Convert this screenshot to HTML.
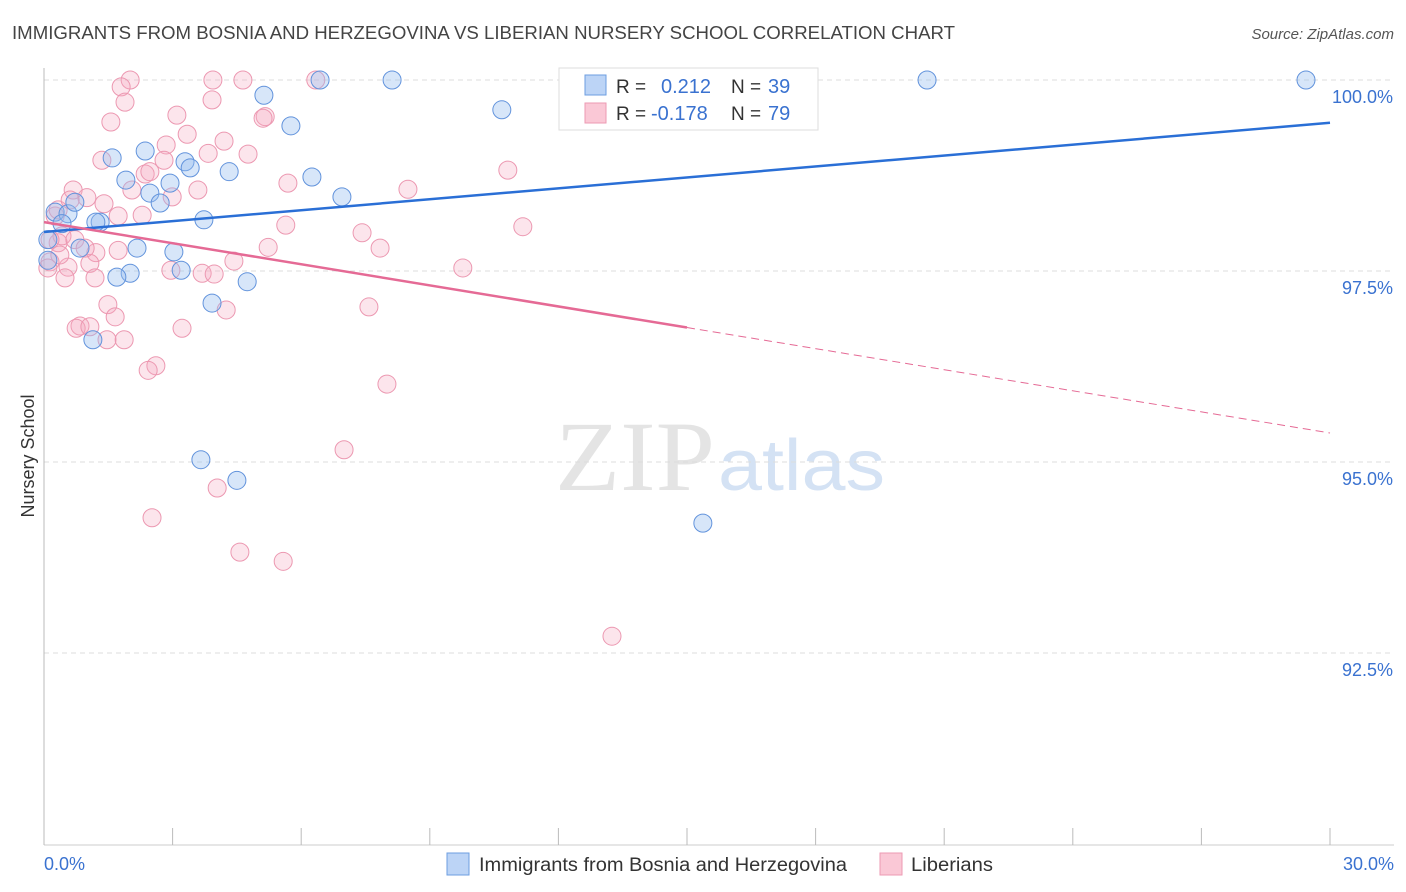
<!DOCTYPE html>
<html><head><meta charset="utf-8"><style>
body{margin:0;background:#fff;font-family:"Liberation Sans",sans-serif}
svg{display:block}
</style></head><body>
<svg id="chart" width="1406" height="892">
<text x="12" y="39" font-size="18" fill="#444" textLength="943" lengthAdjust="spacingAndGlyphs">IMMIGRANTS FROM BOSNIA AND HERZEGOVINA VS LIBERIAN NURSERY SCHOOL CORRELATION CHART</text>
<text x="1394" y="39" font-size="15" fill="#555" font-style="italic" text-anchor="end">Source: ZipAtlas.com</text>
<text x="555" y="490" font-size="100" fill="#e4e4e4" textLength="160" lengthAdjust="spacingAndGlyphs" font-family="Liberation Serif,serif">ZIP</text>
<text x="718" y="490" font-size="72" fill="#d4e2f4" textLength="167" lengthAdjust="spacingAndGlyphs">atlas</text>
<text transform="translate(34,456) rotate(-90)" font-size="18" fill="#333" text-anchor="middle">Nursery School</text>
<g id="grid"></g><g id="marks"></g>
<g>
<rect x="559" y="68" width="259" height="62" fill="#fff" stroke="#ddd"/>
<rect x="585" y="75" width="21" height="20" fill="#bcd4f6" stroke="#6d9ee0"/>
<rect x="585" y="103" width="21" height="20" fill="#fac8d6" stroke="#ec9ab3"/>
<text x="616" y="93" font-size="19" fill="#333">R =</text>
<text x="661" y="93" font-size="20" fill="#3a72d0">0.212</text>
<text x="731" y="93" font-size="19" fill="#333">N =</text>
<text x="768" y="93" font-size="20" fill="#3a72d0">39</text>
<text x="616" y="120" font-size="19" fill="#333">R =</text>
<text x="651" y="120" font-size="20" fill="#3a72d0">-0.178</text>
<text x="731" y="120" font-size="19" fill="#333">N =</text>
<text x="768" y="120" font-size="20" fill="#3a72d0">79</text>
</g>
<g>
<rect x="447" y="853" width="22" height="22" fill="#bcd4f6" stroke="#6d9ee0"/>
<text x="479" y="871" font-size="19" fill="#333" textLength="368" lengthAdjust="spacingAndGlyphs">Immigrants from Bosnia and Herzegovina</text>
<rect x="880" y="853" width="22" height="22" fill="#fac8d6" stroke="#ec9ab3"/>
<text x="911" y="871" font-size="19" fill="#333" textLength="82" lengthAdjust="spacingAndGlyphs">Liberians</text>
</g>
</svg>
<script>
const yTicks=[100,97.5,95,92.5];
const yTickLabels=["100.0%","97.5%","95.0%","92.5%"];
const xTickLabels=["0.0%","30.0%"];
const blueX=[0.26,0.56,0.72,0.42,0.09,1.59,2.36,1.91,1.31,0.84,2.17,2.47,2.71,2.94,3.29,3.41,4.32,3.73,3.03,3.20,2.01,1.70,4.74,3.92,1.14,5.13,5.76,6.44,8.12,10.68,6.25,6.95,3.66,4.50,15.37,20.60,29.44,0.09,1.21];
const blueY=[98.27,98.25,98.40,98.12,97.91,98.98,99.07,98.69,98.14,97.80,97.80,98.52,98.39,98.65,98.93,98.85,98.80,98.17,97.75,97.51,97.47,97.42,97.36,97.08,96.60,99.80,99.40,100,100,99.61,98.73,98.47,95.03,94.76,94.20,100,100,97.64,98.14];
const pinkX=[2.01,1.80,1.89,1.56,1.35,0.68,1.00,1.40,1.73,2.29,2.05,2.36,2.47,2.85,2.80,3.10,3.34,3.94,4.64,3.92,3.83,4.20,4.76,5.16,2.99,3.59,5.69,5.64,6.34,7.42,7.84,5.23,4.43,3.69,3.97,2.96,4.25,3.22,7.58,9.77,8.49,10.82,11.17,1.21,1.07,0.56,0.33,0.42,0.14,0.09,0.49,1.19,1.49,1.66,0.84,0.75,1.07,1.47,1.87,2.61,2.43,8.00,7.00,4.04,2.52,4.57,5.58,13.25,0.26,0.14,0.37,0.72,0.96,0.33,0.61,1.73,5.11];
const pinkY=[100,99.91,99.71,99.45,98.95,98.56,98.46,98.38,98.22,98.23,98.56,98.77,98.80,99.15,98.95,99.54,99.29,100,100,99.74,99.04,99.20,99.03,99.52,98.47,98.56,98.65,98.10,100,98.00,97.80,97.81,97.63,97.47,97.46,97.51,96.99,96.75,97.03,97.54,98.57,98.82,98.08,97.74,97.60,97.55,97.87,97.96,97.62,97.54,97.41,97.41,97.06,96.90,96.78,96.75,96.77,96.60,96.60,96.26,96.20,96.02,95.16,94.66,94.27,93.82,93.70,92.72,98.22,97.91,97.71,97.91,97.80,98.30,98.43,97.77,99.50];
const blueTrend=[98.01,99.44];
const pinkTrend=[98.14,95.38];
const NS="http://www.w3.org/2000/svg";
const X=v=>44+v*(1286/30);
const Y=v=>80+(100-v)*76.4;
function mk(t,a,p){const e=document.createElementNS(NS,t);for(const k in a)e.setAttribute(k,a[k]);p.appendChild(e);return e;}
const grid=document.getElementById('grid'),marks=document.getElementById('marks');
yTicks.forEach((t,i)=>{
 const l=mk('line',{x1:44,x2:1394,y1:Y(t),y2:Y(t),stroke:'#ddd','stroke-dasharray':'5,4'},grid);
 
 
 const tx=mk('text',{x:1393,y:Y(t)+23,'font-size':18,fill:'#3a72d0','text-anchor':'end'},grid);
 tx.textContent=yTickLabels[i];
 
 
});
const ax=mk('line',{x1:44,x2:44,y1:68,y2:845,stroke:'#bbb'},grid);


const bx=mk('line',{x1:44,x2:1394,y1:845,y2:845,stroke:'#ccc'},grid);


for(let i=0;i<=10;i++){
 const t=mk('line',{x1:X(i*3),x2:X(i*3),y1:828,y2:845,stroke:'#bbb'},grid);
 
 
}
[[0,'start',44],[30,'end',1394]].forEach((d,i)=>{
 const t=mk('text',{x:d[2],y:870,'font-size':18,fill:'#3a72d0','text-anchor':d[1]},grid);
 t.textContent=xTickLabels[i];
 
 
});
function pts(xs,ys,fill,stroke,name){
 xs.forEach((x,i)=>{
  const c=mk('circle',{cx:X(x),cy:Y(ys[i]),r:9,fill:fill,stroke:stroke,'stroke-width':1},marks);
  
  
 });
}
pts(pinkX,pinkY,'rgba(246,170,192,0.3)','#ec98b1','point-liberians');
pts(blueX,blueY,'rgba(150,188,240,0.38)','#6293dc','point-bosnia');
const bl=mk('line',{x1:X(0),y1:Y(blueTrend[0]),x2:X(30),y2:Y(blueTrend[1]),stroke:'#2a6fd6','stroke-width':2.5},marks);


const pm=pinkTrend[0]+(pinkTrend[1]-pinkTrend[0])*0.5;
const pl=mk('line',{x1:X(0),y1:Y(pinkTrend[0]),x2:X(15),y2:Y(pm),stroke:'#e56a95','stroke-width':2.5},marks);


const pd=mk('line',{x1:X(15),y1:Y(pm),x2:X(30),y2:Y(pinkTrend[1]),stroke:'#e56a95','stroke-width':1,'stroke-dasharray':'8,5'},marks);


</script>
</body></html>
